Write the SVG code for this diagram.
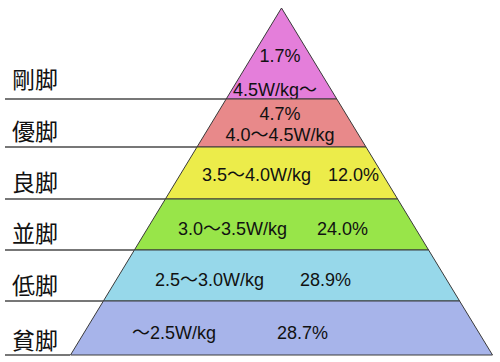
<svg xmlns="http://www.w3.org/2000/svg" width="500" height="362" viewBox="0 0 500 362">
<style>
.band{stroke:#3a3a3a;stroke-width:1;stroke-linejoin:round}
.lvl{font-family:"Noto Sans CJK JP","Noto Sans CJK SC",sans-serif;font-size:23px;fill:#111}
.t{font-family:"Liberation Sans","Noto Sans CJK JP",sans-serif;font-size:18px;fill:#111}
.c{text-anchor:middle}
.rule{stroke:#4a4a4a;stroke-width:1.6;fill:none}
</style>
<rect width="500" height="362" fill="#ffffff"/>
<g id="connectors">
<line class="rule" x1="5" y1="99" x2="226" y2="99"/>
<line class="rule" x1="5" y1="147" x2="197" y2="147"/>
<line class="rule" x1="5" y1="199" x2="165" y2="199"/>
<line class="rule" x1="5" y1="250" x2="134" y2="250"/>
<line class="rule" x1="5" y1="301" x2="103" y2="301"/>
<line class="rule" x1="5" y1="355" x2="70" y2="355"/>
</g>
<g id="gouki">
<polygon class="band" fill="#E47EDA" points="281.5,8 336.8,99 226.2,99"/>
<text class="t c" x="280" y="62">1.7%</text>
<text class="t" x="233" y="96">4.5W/kg〜</text>
<text class="lvl" x="12" y="88">剛脚</text>
</g>
<g id="yuukyaku">
<polygon class="band" fill="#E8898A" points="226.2,99 336.8,99 366,147 197,147"/>
<text class="t c" x="280" y="120">4.7%</text>
<text class="t c" x="280" y="141">4.0〜4.5W/kg</text>
<text class="lvl" x="12" y="140">優脚</text>
</g>
<g id="ryoukyaku">
<polygon class="band" fill="#ECEC4A" points="197,147 366,147 397.6,199 165.4,199"/>
<text class="t" x="202" y="181">3.5〜4.0W/kg</text>
<text class="t" x="328" y="181">12.0%</text>
<text class="lvl" x="12" y="191">良脚</text>
</g>
<g id="namikyaku">
<polygon class="band" fill="#98E549" points="165.4,199 397.6,199 428.6,250 134.4,250"/>
<text class="t" x="178" y="235">3.0〜3.5W/kg</text>
<text class="t" x="317" y="235">24.0%</text>
<text class="lvl" x="12" y="242">並脚</text>
</g>
<g id="teikyaku">
<polygon class="band" fill="#97D8EA" points="134.4,250 428.6,250 459.6,301 103.4,301"/>
<text class="t" x="155" y="286">2.5〜3.0W/kg</text>
<text class="t" x="300" y="286">28.9%</text>
<text class="lvl" x="12" y="294">低脚</text>
</g>
<g id="hinkyaku">
<polygon class="band" fill="#A7B4EA" points="103.4,301 459.6,301 492.5,355 70.5,355"/>
<text class="t" x="132" y="339">〜2.5W/kg</text>
<text class="t" x="277" y="339">28.7%</text>
<text class="lvl" x="12" y="349">貧脚</text>
</g>
</svg>
